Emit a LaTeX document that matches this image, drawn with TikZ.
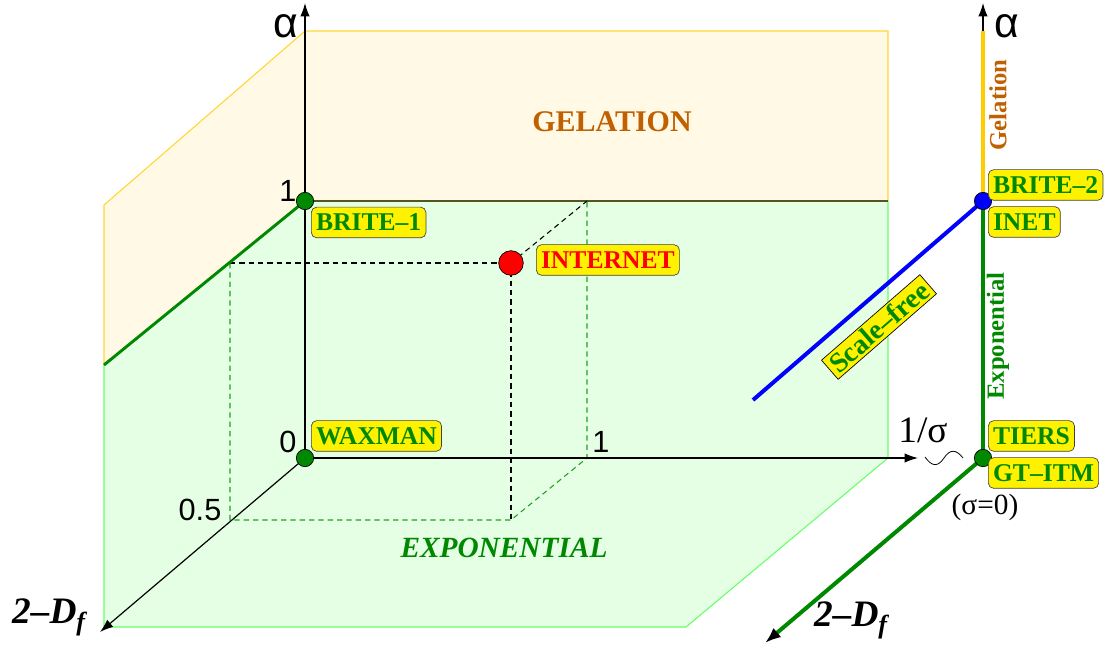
\documentclass[tikz,border=0pt]{standalone}
\usepackage{fontspec}
\setmainfont{Liberation Serif}
\setsansfont{Liberation Sans}
\usetikzlibrary{arrows.meta}
\definecolor{gfill}{HTML}{E5FFE5}
\definecolor{yfill}{HTML}{FFF9E6}
\definecolor{gedge}{HTML}{66FF66}
\definecolor{yedge}{HTML}{FFD633}
\definecolor{dgreen}{HTML}{008800}
\definecolor{gelc}{HTML}{C06000}
\definecolor{olivedark}{HTML}{555522}
\definecolor{dashgreen}{HTML}{22A022}
\definecolor{yline}{HTML}{FFCC00}
\newcommand\lblfont{\fontsize{19.2}{20}\selectfont\bfseries}
\begin{document}
\begin{tikzpicture}[x=0.75pt,y=-0.75pt,
  axisline/.style={black,line width=0.9pt,-{Latex[length=10pt,width=7pt]}},
  blackdash/.style={black,line width=0.8pt,dash pattern=on 4pt off 3pt},
  greendash/.style={dashgreen,line width=0.8pt,dash pattern=on 4pt off 3pt},
  lbl/.style={draw=black!75,line width=0.5pt,fill=yellow,rounded corners=4pt,text=dgreen,font=\lblfont,inner xsep=3.5pt,inner ysep=0pt,minimum height=23pt},
  gdot/.style={circle,fill=dgreen,draw=black,line width=0.5pt,minimum size=13pt,inner sep=0pt},
  bdot/.style={circle,fill=blue,draw=black,line width=0.5pt,minimum size=13pt,inner sep=0pt},
  rdot/.style={circle,fill=red,draw=black,line width=0.5pt,minimum size=18.5pt,inner sep=0pt},
  sansnum/.style={font=\sffamily\fontsize{23}{24}\selectfont,inner sep=0pt},
  alphalbl/.style={font=\sffamily\fontsize{32}{34}\selectfont,inner sep=0pt},
  vlabel/.style={rotate=90,font=\fontsize{18.5}{20}\selectfont\bfseries,inner sep=0pt}
]
\useasboundingbox (0,0) rectangle (1104,648);
% key points
\coordinate (O) at (305,458);
\coordinate (A1) at (305,201);
\coordinate (Atop) at (305,3);
\coordinate (S1) at (587,458);
\coordinate (Sx) at (918,458);
\coordinate (D5) at (230,520);
\coordinate (Dend) at (100,632);
\coordinate (P) at (511,263);
\coordinate (Q) at (511,520);
\coordinate (R) at (230,263);
\coordinate (T) at (587,201);
\coordinate (L1) at (104,365);
\coordinate (RO) at (983,458);
\coordinate (RA) at (983,201);
\coordinate (RY) at (983,31);
\coordinate (Rtop) at (983,3);
\coordinate (Rend) at (765,643);
\coordinate (Bend) at (753,400);
% planes
\fill[yfill] (104,205) -- (305,31) -- (888,31) -- (888,201) -- (305,201) -- (104,365) -- cycle;
\fill[gfill] (104,365) -- (305,201) -- (888,201) -- (888,458) -- (686,627) -- (104,627) -- cycle;
\draw[yedge,line width=0.8pt] (104,365) -- (104,205) -- (305,31) -- (888,31) -- (888,201);
\draw[gedge,line width=0.8pt] (888,201) -- (888,458) -- (686,627) -- (104,627) -- (104,365);
\draw[olivedark,line width=1pt] (A1) -- (888,201);
% dashed box
\draw[greendash] (R) -- (D5) -- (Q) -- (S1) -- (T);
\draw[blackdash] (R) -- (P) -- (Q);
\draw[blackdash] (P) -- (T);
% axes
\draw[axisline] (O) -- (Atop);
\draw[axisline] (O) -- (Sx);
\draw[axisline] (O) -- (Dend);
\draw[dgreen,line width=2.2pt] (L1) -- (A1);
% right axes
\draw[axisline] (RA) -- (Rtop);
\draw[yline,line width=3pt] (RA) -- (RY);
\draw[dgreen,line width=3pt] (RO) -- (RA);
\draw[dgreen,line width=3pt,-{Latex[color=black,length=12pt,width=9pt]}] (RO) -- (Rend);
\draw[blue,line width=3pt] (RA) -- (Bend);
\draw[black,line width=0.6pt] (925,457) .. controls (932,467) and (938,467) .. (944,458) .. controls (950,449) and (956,449) .. (963,458);
% dots
\node[gdot] (waxdot) at (O) {};
\node[gdot] (britedot) at (A1) {};
\node[rdot] (netdot) at (P) {};
\node[gdot] (tiersdot) at (RO) {};
\node[bdot] (brite2dot) at (RA) {};
% labels
\node[lbl,anchor=west] (brite1) at (311,222.5) {BRITE–1};
\node[lbl,anchor=west] (waxman) at (311,436) {WAXMAN};
\node[lbl,anchor=west,text=red] (internet) at (536,260) {INTERNET};
\node[lbl,anchor=west] (brite2) at (988,185) {BRITE–2};
\node[lbl,anchor=west] (inet) at (988,222) {INET};
\node[lbl,anchor=west] (tiers) at (988,436) {TIERS};
\node[lbl,anchor=west] (gtitm) at (988,473) {GT–ITM};
\node[draw=black,line width=0.5pt,fill=yellow,text=dgreen,font=\fontsize{21}{22}\selectfont\bfseries,inner xsep=3pt,inner ysep=2pt,rotate=41] (sf) at (879,327) {Scale–free};
\node[vlabel,text=gelc] (gel) at (998,105) {Gelation};
\node[vlabel,text=dgreen] (expo) at (998,336) {Exponential};
\node[font=\fontsize{22.5}{24}\selectfont\bfseries,text=gelc,inner sep=0pt] (gelation) at (612,122) {GELATION};
\node[font=\fontsize{22}{24}\selectfont\bfseries\itshape,text=dgreen,inner sep=0pt] (exponential) at (504,548) {EXPONENTIAL};
% axis annotations
\node[alphalbl] (alphaL) at (286,26) {α};
\node[alphalbl] (alphaR) at (1007,26) {α};
\node[sansnum] (one) at (288,191) {1};
\node[sansnum] (zero) at (288,442) {0};
\node[sansnum] (half) at (200,510) {0.5};
\node[sansnum] (oneS) at (601,442) {1};
\node[font=\fontsize{28}{30}\selectfont,inner sep=0pt] (sig) at (923,430) {1/σ};
\node[font=\fontsize{28}{30}\selectfont\bfseries\itshape,inner sep=0pt] (dfL) at (49,617) {2–D\textsubscript{f}};
\node[font=\fontsize{28}{30}\selectfont\bfseries\itshape,inner sep=0pt] (dfR) at (851,620) {2–D\textsubscript{f}};
\node[font=\fontsize{22}{24}\selectfont,inner sep=0pt] (s0) at (985,507) {(σ=0)};
\end{tikzpicture}
\end{document}
